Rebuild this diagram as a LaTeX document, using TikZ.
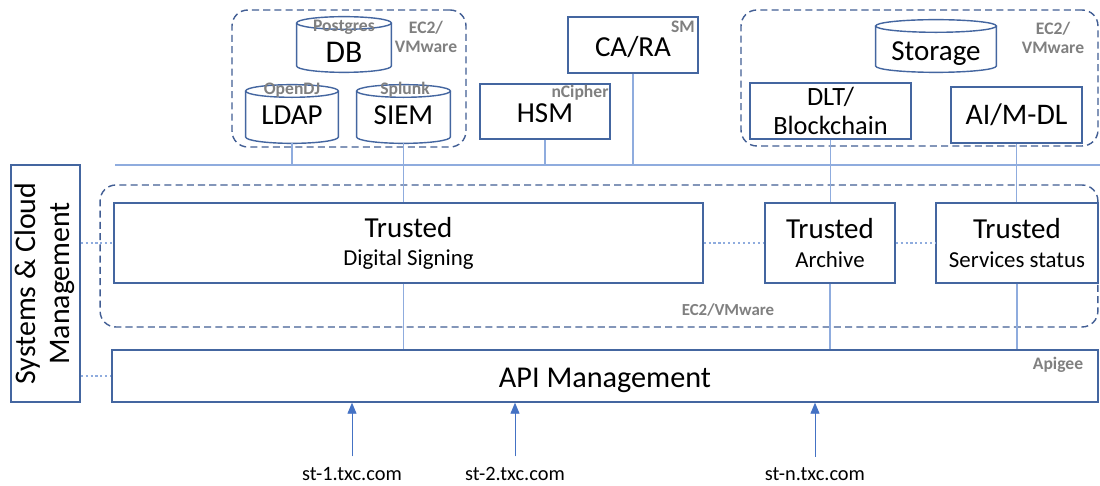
\documentclass[tikz,border=0pt]{standalone}
\usepackage{fontspec}
\setmainfont{Carlito}
\usetikzlibrary{arrows.meta,positioning,calc}
\definecolor{boxblue}{RGB}{68,102,160}
\definecolor{dashblue}{RGB}{66,94,148}
\definecolor{lineblue}{RGB}{143,172,222}
\definecolor{arrowblue}{RGB}{68,114,196}
\definecolor{taggray}{RGB}{128,128,128}
\newcommand{\bigtxt}{\fontsize{16.5}{19}\selectfont}
\newcommand{\smalltxt}{\fontsize{13}{15.5}\selectfont}
\def\cylry{3.6pt}
\tikzset{
    box/.style={draw=boxblue,line width=0.8pt,align=center,inner sep=2pt,font=\bigtxt},
    cyl/.style={inner sep=0pt,font=\bigtxt},
    low/.style={text height=#1,text depth=0pt},
    group/.style={draw=dashblue,line width=0.8pt,dash pattern=on 4pt off 2.4pt,rounded corners=9pt},
    tag/.style={text=taggray,font=\fontsize{10}{11}\selectfont\bfseries,inner sep=0pt,align=center},
    link/.style={draw=lineblue,line width=0.7pt},
    dots/.style={draw=lineblue,line width=0.8pt,dash pattern=on 1.2pt off 1.6pt},
    arrow/.style={-{Triangle[length=2.2mm,width=1.8mm]},draw=arrowblue,line width=0.5pt,shorten <=5pt},
    host/.style={font=\fontsize{11.6}{13}\selectfont,inner sep=1pt}
}
\newcommand{\cylout}[1]{%
  \draw[draw=boxblue,line width=0.8pt] let \p1=($(#1.east)-(#1.west)$) in
    ($(#1.north west)+(0,-\cylry)$) -- ($(#1.south west)+(0,\cylry)$)
    arc[start angle=180,end angle=360,x radius=0.5*\x1,y radius=\cylry]
    -- ($(#1.north east)+(0,-\cylry)$);
  \draw[draw=boxblue,line width=0.8pt] let \p1=($(#1.east)-(#1.west)$) in
    ($(#1.north)+(0,-\cylry)$) ellipse[x radius=0.5*\x1,y radius=\cylry];
}
\begin{document}
\begin{tikzpicture}[x=0.02cm,y=-0.02cm]
    \fill[white] (0,0) rectangle (1100,486);
    \useasboundingbox (0,0) rectangle (1100,486);

    % top left group
    \node[group,minimum width=4.68cm,minimum height=2.74cm] (grpl) at (349,78.5) {};
    \node[cyl,minimum width=1.88cm,minimum height=1.1cm,low=21pt,font=\fontsize{18}{20}\selectfont] (db) at (344,44.5) {DB};
    \node[cyl,minimum width=1.84cm,minimum height=1.16cm,low=12pt] (ldap) at (292,114) {LDAP};
    \node[cyl,minimum width=1.86cm,minimum height=1.16cm,low=12pt] (siem) at (403.5,114) {SIEM};
    \cylout{db}
    \cylout{ldap}
    \cylout{siem}
    \node[tag] (pg) at (344,27) {Postgres};
    \node[tag] (odj) at (292,90) {OpenDJ};
    \node[tag] (spl) at (405,90) {Splunk};
    \node[tag] (ec2a) at (426,37) {EC2/\\VMware};

    % hsm and ca
    \node[box,minimum width=2.6cm,minimum height=1.1cm,low=13pt] (hsm) at (545,111.5) {HSM};
    \node[box,minimum width=2.6cm,minimum height=1.12cm,low=13.6pt] (cara) at (633,45) {CA/RA};
    \node[tag] (nci) at (580,93) {nCipher};
    \node[tag] (sm) at (683,27) {SM};

    % top right group
    \node[group,minimum width=7.14cm,minimum height=2.72cm] (grpr) at (919.5,78) {};
    \node[cyl,minimum width=2.4cm,minimum height=1.04cm,low=16pt] (storage) at (936,46) {Storage};
    \cylout{storage}
    \node[tag] (ec2b) at (1053,38) {EC2/\\VMware};
    \node[box,minimum width=3.22cm,minimum height=1.12cm,inner sep=0pt,font=\fontsize{15}{17}\selectfont] (dlt) at (830.5,111) {DLT/\\Blockchain};
    \node[box,minimum width=2.62cm,minimum height=1.12cm,font=\fontsize{17}{19}\selectfont] (ai) at (1016.5,115) {AI/M-DL};

    % bus
    \coordinate (busl) at (115,165);
    \coordinate (busr) at (1100,165);
    \draw[link] (busl) -- (busr);

    % trusted services
    \node[group,minimum width=19.96cm,minimum height=2.84cm] (grpm) at (599,256) {};
    \node[box,minimum width=11.78cm,minimum height=1.6cm] (ds) at (408.5,243) {Trusted\\[-3pt]\smalltxt Digital Signing};
    \node[box,minimum width=2.6cm,minimum height=1.6cm] (arch) at (830,243) {Trusted\\[-3pt]\smalltxt Archive};
    \node[box,minimum width=3.24cm,minimum height=1.6cm] (svc) at (1017,243) {Trusted\\[-3pt]\smalltxt Services status};
    \node[tag,font=\fontsize{9.6}{11}\selectfont\bfseries] (ec2c) at (728,310) {EC2/VMware};

    % management
    \node[box,minimum width=1.38cm,minimum height=4.74cm,inner sep=0pt,font=\fontsize{17}{19.5}\selectfont] (sys) at (45.5,283.5)
        {\rotatebox{90}{\begin{tabular}{@{}c@{}}Systems \& Cloud\\Management\end{tabular}}};
    \node[box,minimum width=19.72cm,minimum height=1.04cm,low=13pt,font=\fontsize{17.2}{19}\selectfont] (api) at (605,376) {API Management};
    \node[tag] (apg) at (1058,365) {Apigee};

    % connectors
    \draw[link] (ldap.south) -- (ldap.south |- busl);
    \draw[link] (hsm.south) -- (hsm.south |- busl);
    \draw[link] (cara.south) -- (cara.south |- busl);
    \draw[link] (siem.south) -- (siem.south |- ds.north);
    \draw[link] (siem.south |- ds.south) -- (siem.south |- api.north);
    \draw[link] (dlt.south) -- (dlt.south |- arch.north);
    \draw[link] (arch.south) -- (arch.south |- api.north);
    \draw[link] (ai.south) -- (ai.south |- svc.north);
    \draw[link] (svc.south) -- (svc.south |- api.north);
    \draw[dots] (sys.east |- ds.west) -- (ds.west);
    \draw[dots] (sys.east |- api.west) -- (api.west);
    \draw[dots] (ds.east) -- (arch.west);
    \draw[dots] (arch.east) -- (svc.west);

    % clients
    \node[host] (st1) at (352,474) {st-1.txc.com};
    \node[host] (st2) at (515,474) {st-2.txc.com};
    \node[host] (stn) at (815,474) {st-n.txc.com};
    \draw[arrow] (st1.north) -- (st1.north |- api.south);
    \draw[arrow] (st2.north) -- (st2.north |- api.south);
    \draw[arrow] (stn.north) -- (stn.north |- api.south);
\end{tikzpicture}
\end{document}
